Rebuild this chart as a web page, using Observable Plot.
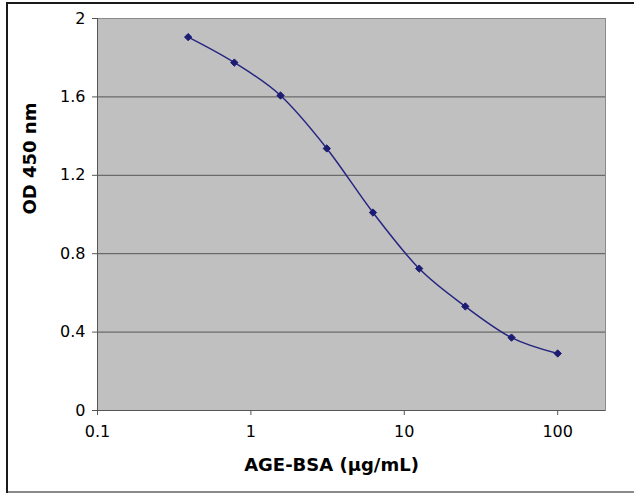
<!DOCTYPE html>
<html>
<head>
<meta charset="utf-8">
<script src="https://cdn.jsdelivr.net/npm/d3@7"></script>
<script src="https://cdn.jsdelivr.net/npm/@observablehq/plot@0.6"></script>
<style>
  html, body { margin: 0; padding: 0; background: #fff; }
  #wrap { position: relative; width: 634px; height: 493px; overflow: hidden; }
  .bd { position: absolute; }
</style>
</head>
<body>
<div id="wrap">
  <div class="bd" style="left:6px;top:2px;width:628px;height:2px;background:#1a1a1a"></div>
  <div class="bd" style="left:6px;top:2px;width:2px;height:491px;background:#1a1a1a"></div>
  <div class="bd" style="left:8px;top:491px;width:626px;height:2px;background:#8a8a8a"></div>
</div>
<script>
// Data
const concentrations = [0.39, 0.78, 1.56, 3.125, 6.25, 12.5, 25, 50, 100];
const odValues = [1.905, 1.775, 1.607, 1.337, 1.010, 0.724, 0.531, 0.372, 0.291];
const yTicks = [0, 0.4, 0.8, 1.2, 1.6, 2];
const gridTicks = [0.4, 0.8, 1.2, 1.6];
const xTicks = [0.1, 1, 10, 100];
const xTitle = "AGE-BSA (µg/mL)";
const yTitle = "OD 450 nm";

const data = concentrations.map((c, i) => ({conc: c, od: odValues[i]}));

const chart = Plot.plot({
  width: 634,
  height: 493,
  marginLeft: 97,
  marginRight: 29,
  marginTop: 18,
  marginBottom: 83,
  x: {type: "log", domain: [0.1, 205]},
  y: {domain: [0, 2]},
  style: {fontFamily: "'DejaVu Sans', sans-serif", fontSize: "16px", color: "#000", background: "transparent", overflow: "visible"},
  marks: [
    Plot.frame({fill: "#c0c0c0", stroke: "#8a8a8a"}),
    Plot.gridY(gridTicks, {stroke: "#555", strokeOpacity: 1}),
    Plot.ruleX([0.1], {stroke: "#555"}),
    Plot.ruleY([0], {stroke: "#555"}),
    Plot.axisY(yTicks, {tickSize: 5, tickPadding: 7, stroke: "#555", label: null, fill: "#000", fontSize: 16, tickFormat: d => String(d)}),
    Plot.axisX(xTicks, {tickSize: 5, tickPadding: 10, stroke: "#555", label: null, fill: "#000", fontSize: 16, tickFormat: d => String(d)}),
    Plot.line(data, {x: "conc", y: "od", curve: "monotone-x", stroke: "#262682", strokeWidth: 1.5}),
    Plot.dot(data, {x: "conc", y: "od", symbol: "diamond2", r: 3.3, fill: "#1c1c72", stroke: "#1c1c72", strokeWidth: 1}),
    Plot.text([yTitle], {frameAnchor: "left", dx: -67, rotate: -90, fontWeight: "bold", fontSize: 18, fill: "#000"}),
    Plot.text([xTitle], {frameAnchor: "bottom", dx: -20, dy: 60, fontWeight: "bold", fontSize: 18, fill: "#000"})
  ]
});
chart.style.position = "absolute";
chart.style.left = "0px";
chart.style.top = "0px";
document.getElementById("wrap").appendChild(chart);
</script>
</body>
</html>
